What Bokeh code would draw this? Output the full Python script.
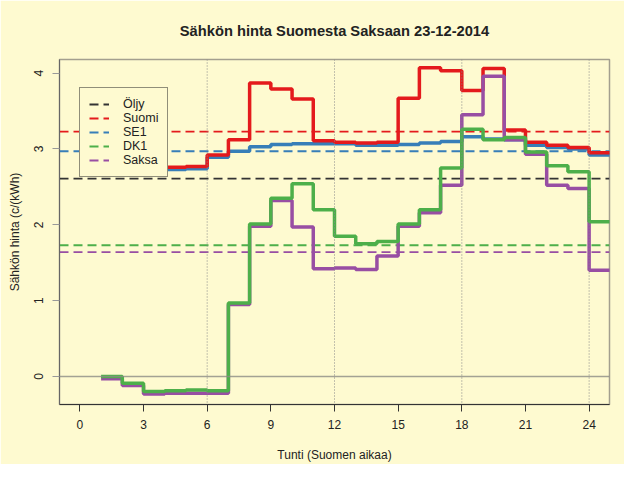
from bokeh.embed import file_html
from bokeh.models import FixedTicker, Legend, LegendItem, Range1d, Span
from bokeh.plotting import figure
from bokeh.resources import INLINE

# hourly prices, c/kWh, hour k holds from k to k+1
hours = list(range(1, 26))
suomi = [2.95, 2.85, 2.76, 2.76, 2.77, 2.92, 3.12, 3.87, 3.79, 3.66, 3.11, 3.09,
         3.08, 3.09, 3.67, 4.07, 4.03, 3.77, 4.06, 3.25, 3.09, 3.05, 3.02, 2.95]
se1 = [2.92, 2.82, 2.73, 2.73, 2.74, 2.89, 2.97, 3.03, 3.06, 3.07, 3.07, 3.07,
       3.05, 3.05, 3.06, 3.08, 3.10, 3.16, 3.13, 3.12, 3.05, 3.02, 3.00, 2.92]
dk1 = [0.00, -0.09, -0.20, -0.19, -0.18, -0.19, 0.97, 2.01, 2.35, 2.54, 2.20, 1.85,
       1.75, 1.78, 2.01, 2.20, 2.75, 3.26, 3.12, 3.15, 2.96, 2.78, 2.70, 2.04]
saksa = [-0.03, -0.12, -0.23, -0.22, -0.22, -0.22, 0.95, 1.98, 2.32, 1.97, 1.42, 1.43,
         1.41, 1.59, 1.98, 2.16, 2.52, 3.45, 3.96, 3.12, 2.93, 2.52, 2.48, 1.40]

# reference levels (dashed)
avg_names = ["Öljy", "Suomi", "SE1", "DK1", "Saksa"]
avg_values = [2.61, 3.23, 2.97, 1.73, 1.64]
avg_colors = ["#333333", "#e41a1c", "#377eb8", "#4daf4a", "#984ea3"]

x_ticks = [0, 3, 6, 9, 12, 15, 18, 21, 24]
y_ticks = [0, 1, 2, 3, 4]
guide_hours = [6, 12, 18, 24]

bg = "#fefad0"
font = "Liberation Sans"

x_range = Range1d(-0.96, 24.96)
p = figure(
    width=624,
    height=464,
    x_range=x_range,
    y_range=Range1d(-0.37, 4.18),
    title="Sähkön hinta Suomesta Saksaan 23-12-2014",
    x_axis_label="Tunti (Suomen aikaa)",
    y_axis_label="Sähkön hinta (c/(kWh)",
    output_backend="svg",
    toolbar_location=None,
    min_border_left=59,
    min_border_right=15,
    min_border_top=59,
    min_border_bottom=58,
)
p.background_fill_color = bg
p.border_fill_color = bg
p.outline_line_color = "#a39f8e"
p.outline_line_width = 1.5
p.grid.visible = False

p.title.align = "center"
p.title.text_font = font
p.title.text_font_size = "14.7px"
p.title.text_font_style = "bold"
p.title.text_color = "#222222"
p.title.standoff = 41

for ax in (p.xaxis, p.yaxis):
    ax.major_label_text_font = font
    ax.major_label_text_font_size = "12px"
    ax.major_label_text_color = "#222222"
    ax.axis_label_text_font = font
    ax.axis_label_text_font_size = "12px"
    ax.axis_label_text_font_style = "normal"
    ax.axis_label_text_color = "#222222"
    ax.major_tick_out = 7
    ax.major_tick_in = 0
    ax.minor_tick_out = 0
    ax.minor_tick_in = 0

p.xaxis.ticker = FixedTicker(ticks=x_ticks)
p.xaxis.axis_line_color = "#333333"
p.xaxis.major_tick_line_color = "#333333"
p.xaxis.major_label_standoff = 8
p.xaxis.axis_label_standoff = 16

p.yaxis.ticker = FixedTicker(ticks=y_ticks)
p.yaxis.axis_line_color = "#666666"
p.yaxis.major_tick_line_color = "#999999"
p.yaxis.major_label_orientation = "vertical"
p.yaxis.major_label_standoff = 9
p.yaxis.axis_label_standoff = 10

# dashed reference levels
avg_lines = []
for name, v, c in zip(avg_names, avg_values, avg_colors):
    r = p.line([x_range.start, x_range.end], [v, v], line_color=c,
               line_width=1.8, line_dash="9 5")
    avg_lines.append(r)

# hourly step lines
def steps(vals):
    return vals + [vals[-1]]

p.step(hours, steps(se1), mode="after", line_color="#377eb8", line_width=3.5)
p.step(hours, steps(suomi), mode="after", line_color="#e41a1c", line_width=3.5)
p.step(hours, steps(saksa), mode="after", line_color="#984ea3", line_width=3.5)
p.step(hours, steps(dk1), mode="after", line_color="#4daf4a", line_width=3.5)

p.add_layout(Span(location=0, dimension="width", line_color="#8c8c84",
                  line_alpha=0.8, line_width=1.5))
for h in guide_hours:
    p.add_layout(Span(location=h, dimension="height", line_color="#888888",
                      line_width=1, line_dash="1 2"))

legend = Legend(
    items=[LegendItem(label=n, renderers=[r]) for n, r in zip(avg_names, avg_lines)],
    location=(20, 227),
    background_fill_color=bg,
    background_fill_alpha=1.0,
    border_line_color="#222222",
    border_line_width=1,
    label_text_font=font,
    label_text_font_size="12.5px",
    label_text_color="#222222",
    glyph_width=20,
    glyph_height=14,
    label_height=14,
    label_standoff=14,
    spacing=0,
    padding=9,
    margin=0,
)
p.add_layout(legend)

open("out.html", "w").write(file_html(p, INLINE))
